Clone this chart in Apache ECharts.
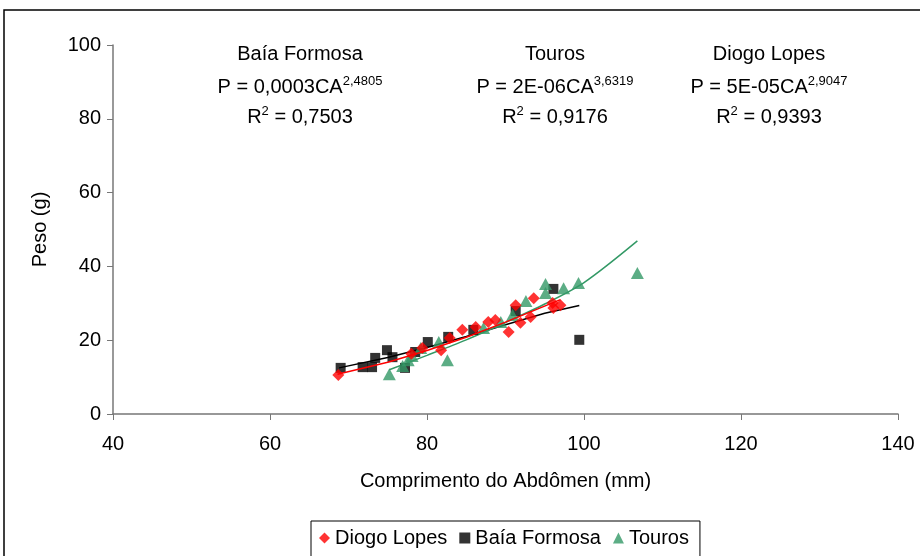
<!DOCTYPE html>
<html>
<head>
<meta charset="utf-8">
<script src="https://cdn.jsdelivr.net/npm/echarts@6/dist/echarts.min.js"></script>
<style>html,body{margin:0;padding:0;background:#fff}#c{width:920px;height:556px}</style>
</head>
<body>
<div id="c"></div>
<script>
// Scatter data [CA (mm), Peso (g)]
const diogoLopes = [[68.7,10.6],[78.0,16.3],[79.4,17.9],[81.8,17.3],[82.9,20.6],[84.5,22.8],[86.2,23.6],[87.8,24.9],[88.7,25.5],[90.4,22.2],[91.3,29.5],[91.9,24.7],[93.2,26.3],[93.6,31.4],[96.0,30.1],[96.1,28.7],[97.0,29.5]];
const baiaFormosa = [[69.0,12.5],[71.8,12.7],[73.0,12.7],[73.4,15.2],[74.9,17.3],[75.6,15.4],[77.2,12.5],[78.5,16.8],[80.1,19.5],[82.7,20.9],[85.9,22.8],[91.3,27.9],[96.1,33.9],[99.4,20.1]];
const touros = [[75.2,10.8],[76.9,13.0],[77.6,14.6],[78.1,15.7],[79.2,17.9],[81.5,19.5],[82.6,14.6],[87.2,23.3],[89.4,24.9],[90.9,26.8],[92.6,30.6],[95.1,35.2],[95.1,32.8],[97.4,34.1],[99.3,35.5],[106.8,38.2]];
// Trend lines
const trendDiogo = [[68.6,10.8],[75,14.0],[80,17.2],[85,20.8],[90,24.9],[97,31.0]];
const trendBaia = [[68.8,12.5],[75,15.3],[80,18.0],[85,21.0],[90,24.2],[95,27.3],[99.4,29.4]];
const trendTouros = [[75.2,12.0],[80,15.9],[85,20.1],[90,24.8],[95,29.8],[100,35.6],[106.8,46.9]];
const xTicks = [40,60,80,100,120,140];
const yTicks = [0,20,40,60,80,100];
const legendNames = ['Diogo Lopes','Baía Formosa','Touros'];
const eqTitles = ['Baía Formosa','Touros','Diogo Lopes'];
const eqBase = ['P = 0,0003CA','P = 2E-06CA','P = 5E-05CA'];
const eqExp = ['2,4805','3,6319','2,9047'];
const eqR2 = ['0,7503','0,9176','0,9393'];

const FONT = '"Liberation Sans", Arial, sans-serif';
const RED = '#ff0000', BLACK = '#000000', GREEN = '#339966';
const eqCx = [300, 555, 769];

const chart = echarts.init(document.getElementById('c'), null, {renderer:'canvas'});

const graphics = [
  {type:'rect', shape:{x:4, y:10, width:930, height:560}, style:{fill:'none', stroke:'#000', lineWidth:1.5}, z:-10}
];
const rich = {
  n:{fontSize:20, fontFamily:FONT, fill:'#000', lineHeight:22, verticalAlign:'bottom'},
  s:{fontSize:13, fontFamily:FONT, fill:'#000', lineHeight:22, verticalAlign:'top', padding:[0,0,9,0]}
};
eqTitles.forEach((t, i) => {
  graphics.push({type:'text', x:eqCx[i], y:54, style:{text:t, font:'20px '+FONT, fill:'#000', textAlign:'center', textVerticalAlign:'middle'}});
  graphics.push({type:'text', x:eqCx[i], y:86, style:{
    text:'{n|'+eqBase[i]+'}{s|'+eqExp[i]+'}', textAlign:'center', textVerticalAlign:'middle', rich:rich
  }});
  graphics.push({type:'text', x:eqCx[i], y:116, style:{
    text:'{n|R}{s|2}{n| = '+eqR2[i]+'}', textAlign:'center', textVerticalAlign:'middle', rich:rich
  }});
});

const option = {
  animation:false,
  backgroundColor:'#fff',
  textStyle:{fontFamily:FONT},
  grid:{left:113, top:45, right:22, bottom:142, containLabel:false},
  xAxis:{
    type:'value', min:xTicks[0], max:xTicks[xTicks.length-1], interval:20,
    name:'Comprimento do Abdômen (mm)', nameLocation:'middle', nameGap:57,
    nameTextStyle:{fontSize:20, color:'#000', fontFamily:FONT},
    axisLine:{lineStyle:{color:'#777', width:1.5}},
    axisTick:{show:true, inside:false, length:6, lineStyle:{color:'#777'}},
    axisLabel:{fontSize:20, color:'#000', margin:20, fontFamily:FONT},
    splitLine:{show:false}
  },
  yAxis:{
    type:'value', min:yTicks[0], max:yTicks[yTicks.length-1], interval:20,
    name:'Peso (g)', nameLocation:'middle', nameGap:63, nameRotate:90,
    nameTextStyle:{fontSize:20, color:'#000', fontFamily:FONT},
    axisLine:{show:true, lineStyle:{color:'#777', width:1.5}},
    axisTick:{show:true, inside:false, length:6, lineStyle:{color:'#777'}},
    axisLabel:{fontSize:20, color:'#000', margin:12, fontFamily:FONT},
    splitLine:{show:false}
  },
  legend:{
    data:legendNames, left:311, top:521, orient:'horizontal',
    borderColor:'#000', borderWidth:1, padding:[7,11,30,8], itemGap:12,
    itemWidth:11, itemHeight:11,
    textStyle:{fontSize:20, color:'#000', fontFamily:FONT, padding:[0,0,0,0]}
  },
  series:[
    {type:'line', data:trendBaia, showSymbol:false, symbol:'none', lineStyle:{color:BLACK, width:1.5}, z:1, silent:true},
    {type:'line', data:trendTouros, showSymbol:false, symbol:'none', smooth:0.3, lineStyle:{color:GREEN, width:1.5}, z:1, silent:true},
    {type:'scatter', name:'Baía Formosa', data:baiaFormosa, symbol:'rect', symbolSize:10, itemStyle:{color:BLACK}, z:2},
    {type:'scatter', name:'Touros', data:touros, symbol:'triangle', symbolSize:[13,12], itemStyle:{color:GREEN}, z:3},
    {type:'scatter', name:'Diogo Lopes', data:diogoLopes, symbol:'diamond', symbolSize:12, itemStyle:{color:RED}, z:4},
    {type:'line', data:trendDiogo, showSymbol:false, symbol:'none', lineStyle:{color:RED, width:1.5}, z:5, silent:true}
  ],
  graphic:graphics
};
chart.setOption(option);
</script>
</body>
</html>
